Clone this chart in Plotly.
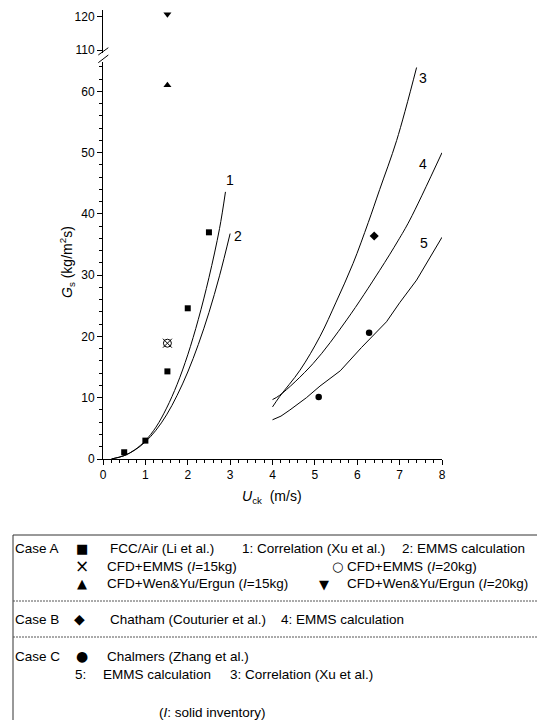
import plotly.graph_objects as go

# ---- data ----
caseA_fcc_x = [0.5, 1.0, 1.52, 2.0, 2.5]
caseA_fcc_y = [1.1, 3.0, 14.3, 24.6, 37.0]
cfd_emms_x = [1.52]
cfd_emms15_y = [18.9]
cfd_emms20_y = [18.9]
cfd_wen15_x = [1.52]
cfd_wen15_y = [61.0]
cfd_wen20_x = [1.52]
cfd_wen20_y = [120.7]
caseB_x = [6.4]
caseB_y = [36.4]
caseC_x = [5.09, 6.28]
caseC_y = [10.1, 20.6]

curve1_x = [0.2, 0.5, 0.75, 1.0, 1.25, 1.5, 1.75, 2.0, 2.25, 2.5, 2.75, 2.89]
curve1_y = [0.0, 0.55, 1.5, 3.0, 5.2, 8.3, 12.2, 17.0, 22.8, 29.6, 37.6, 43.6]
curve2_x = [0.2, 0.5, 0.75, 1.0, 1.25, 1.5, 1.75, 2.0, 2.25, 2.5, 2.75, 3.0]
curve2_y = [0.0, 0.55, 1.45, 2.8, 4.7, 7.2, 10.4, 14.2, 18.7, 23.9, 29.9, 36.8]
curve3_x = [4.0, 4.17, 4.65, 5.12, 5.5, 5.9, 6.26, 6.53, 6.93, 7.4]
curve3_y = [8.5, 10.2, 14.5, 20.0, 25.6, 31.9, 38.6, 44.0, 52.0, 63.9]
curve4_x = [4.0, 4.17, 4.96, 5.75, 6.53, 6.96, 7.24, 8.0]
curve4_y = [9.7, 10.4, 15.6, 22.7, 30.8, 35.6, 39.0, 50.0]
curve5_x = [4.0, 4.2, 4.41, 4.8, 5.12, 5.6, 6.1, 6.69, 7.0, 7.4, 8.0]
curve5_y = [6.4, 7.0, 8.0, 10.0, 11.9, 14.4, 18.2, 22.4, 25.5, 29.2, 36.2]

curve_labels = ["1", "2", "3", "4", "5"]
curve_label_x = [3.0, 3.19, 7.54, 7.56, 7.58]
curve_label_y = [45.5, 36.4, 62.2, 48.1, 35.3]

x_ticks = [0, 1, 2, 3, 4, 5, 6, 7, 8]
y_ticks_low = [0, 10, 20, 30, 40, 50, 60]
y_ticks_high = [110, 120]

# ---- geometry (page has an 8px body margin; helpers take screen pixels) ----
OFF = 8
W, H = 545 - OFF, 720 - OFF
ML, MT = 103 - OFF, 10 - OFF
MR = W - (442 - OFF)
MB = H - (459 - OFF)
PW, PH = W - ML - MR, H - MT - MB


def px(xs):
    return (xs - OFF - ML) / PW


def py(ys):
    return (H - MB - (ys - OFF)) / PH


FONT = "Liberation Sans, Arial, sans-serif"
fig = go.Figure()

line_style = dict(color="black", width=1)
for cx, cy, shp in [(curve1_x, curve1_y, "spline"), (curve2_x, curve2_y, "spline"),
                    (curve3_x, curve3_y, "spline"), (curve4_x, curve4_y, "spline"),
                    (curve5_x, curve5_y, "linear")]:
    fig.add_trace(go.Scatter(x=cx, y=cy, mode="lines", line=dict(line_style, shape=shp),
                             showlegend=False))

fig.add_trace(go.Scatter(x=caseA_fcc_x, y=caseA_fcc_y, mode="markers",
                         marker=dict(symbol="square", size=6, color="black")))
fig.add_trace(go.Scatter(x=cfd_emms_x, y=cfd_emms15_y, mode="markers",
                         marker=dict(symbol="x-thin-open", size=9, color="black",
                                     line=dict(width=1, color="black"))))
fig.add_trace(go.Scatter(x=cfd_emms_x, y=cfd_emms20_y, mode="markers",
                         marker=dict(symbol="circle-open", size=8, color="black",
                                     line=dict(width=1, color="black"))))
fig.add_trace(go.Scatter(x=cfd_wen15_x, y=cfd_wen15_y, mode="markers",
                         marker=dict(symbol="triangle-up", size=7, color="black")))
fig.add_trace(go.Scatter(x=cfd_wen20_x, y=cfd_wen20_y, mode="markers", yaxis="y2",
                         marker=dict(symbol="triangle-down", size=7, color="black")))
fig.add_trace(go.Scatter(x=caseB_x, y=caseB_y, mode="markers",
                         marker=dict(symbol="diamond", size=7, color="black")))
fig.add_trace(go.Scatter(x=caseC_x, y=caseC_y, mode="markers",
                         marker=dict(symbol="circle", size=6.5, color="black")))

for t, lx, ly in zip(curve_labels, curve_label_x, curve_label_y):
    fig.add_annotation(x=lx, y=ly, xref="x", yref="y", text=t, showarrow=False,
                       font=dict(size=14, color="black", family=FONT))

ax_common = dict(showline=True, linecolor="black", linewidth=1, ticks="outside",
                 ticklen=5, tickwidth=1, tickcolor="black", showgrid=False,
                 zeroline=False, tickfont=dict(size=12, color="black", family=FONT))

fig.update_layout(
    width=W, height=H, margin=dict(l=ML, r=MR, t=MT, b=MB),
    plot_bgcolor="white", paper_bgcolor="white", showlegend=False,
    xaxis=dict(range=[0, 8], tickvals=x_ticks, anchor="y",
               minor=dict(dtick=0.2, ticklen=3, ticks="outside", tickcolor="black", showgrid=False),
               **ax_common),
    yaxis=dict(range=[0, 64.8], domain=[0, py(62)], tickvals=y_ticks_low, anchor="x",
               minor=dict(dtick=2, ticklen=3, ticks="outside", tickcolor="black", showgrid=False),
               **ax_common),
    yaxis2=dict(range=[109.1, 122.0], domain=[py(53), 1], tickvals=y_ticks_high,
                anchor="x", **ax_common),
)

# axis break marks
for y0, y1 in [(55, 47.7), (62.7, 55)]:
    fig.add_shape(type="line", xref="paper", yref="paper", x0=px(98.3), x1=px(108.3),
                  y0=py(y0), y1=py(y1), line=dict(color="black", width=1))

# axis titles
fig.add_annotation(xref="paper", yref="paper", x=px(67), y=py(262), textangle=-90,
                   xanchor="center", yanchor="middle",
                   text="<i>G</i><sub>s</sub> (kg/m<sup>2</sup>s)", showarrow=False,
                   font=dict(size=14, color="black", family=FONT))
fig.add_annotation(xref="paper", yref="paper", x=px(272), y=py(497),
                   xanchor="center", yanchor="middle",
                   text="<i>U</i><sub>ck</sub>  (m/s)", showarrow=False,
                   font=dict(size=14, color="black", family=FONT))

# legend box
fig.add_shape(type="rect", xref="paper", yref="paper", x0=px(13), x1=px(560),
              y0=py(535), y1=py(730), line=dict(color="#333333", width=1))
for yy in [601, 637]:
    fig.add_shape(type="line", xref="paper", yref="paper", x0=px(13), x1=px(545),
                  y0=py(yy), y1=py(yy), line=dict(color="#555555", width=1, dash="2px,1px"))

I = "<i>I</i>"
legend_text = [
    (13, 548, "Case A"), (108, 548, "FCC/Air (Li et al.)"),
    (240, 548, "1: Correlation (Xu et al.)"), (400, 548, "2: EMMS calculation"),
    (105, 566, f"CFD+EMMS ({I}=15kg)"), (345, 566, f"CFD+EMMS ({I}=20kg)"),
    (105, 583, f"CFD+Wen&Yu/Ergun ({I}=15kg)"), (345, 583, f"CFD+Wen&Yu/Ergun ({I}=20kg)"),
    (13, 619, "Case B"), (108, 619, "Chatham (Couturier et al.)"),
    (279, 619, "4: EMMS calculation"),
    (13, 656, "Case C"), (105, 656, "Chalmers (Zhang et al.)"),
    (73, 674, "5:"), (101, 674, "EMMS calculation"), (228, 674, "3: Correlation (Xu et al.)"),
    (157, 712, f"({I}: solid inventory)"),
]
legend_glyphs = [
    (82, 548, "■", 13), (82, 566, "×", 17), (337, 566, "○", 13),
    (82, 583, "▲", 13), (324, 584, "▼", 13), (79, 619, "◆", 14), (82, 656, "●", 14),
]
for lx, ly, t in legend_text:
    fig.add_annotation(xref="paper", yref="paper", x=px(lx), y=py(ly), xanchor="left",
                       yanchor="middle", text=t, showarrow=False,
                       font=dict(size=13.5, color="black", family=FONT))
for lx, ly, t, s in legend_glyphs:
    fig.add_annotation(xref="paper", yref="paper", x=px(lx), y=py(ly), xanchor="center",
                       yanchor="middle", text=t, showarrow=False,
                       font=dict(size=s, color="black", family="DejaVu Sans"))

fig.write_html("out.html")
